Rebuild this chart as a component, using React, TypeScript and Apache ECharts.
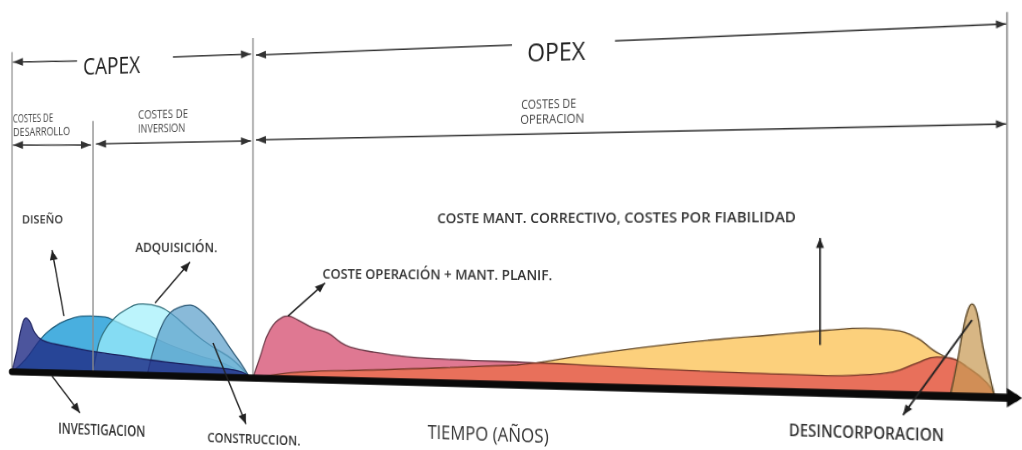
import React, { useEffect, useRef } from "react";
import * as echarts from "echarts";

// ---- data: time (0-100 = life cycle) vs cost level ----
const timeRange = [0, 100.8];
const costRange = [0, 150];

const investigacion = [[0, 0], [0.6, 24.1], [1.21, 51.6], [1.68, 59.4], [2.16, 55.1], [2.75, 43.1], [3.59, 35.6], [5.13, 31.5], [6.9, 28.6], [10.06, 23.8], [13.3, 20.1], [16.17, 16.5], [19.01, 13.9], [21.82, 11.3], [24.6, 9.4], [26.5, 6], [27.5, 0]];
const diseno = [[0, 0], [1.56, 13.3], [3.35, 35.6], [4.54, 46.7], [6.55, 57.9], [9.25, 62.6], [10.99, 61.8], [12.15, 57.6], [13.88, 50.4], [16.17, 42.2], [18.44, 33], [21.82, 21.9], [24.6, 14.1], [27.36, 0]];
const adquisicion = [[9.47, 0], [10.06, 23.8], [10.41, 36.8], [11.57, 55.4], [13.53, 70.7], [15.37, 76.3], [17.31, 73.3], [18.79, 65], [20.36, 52.5], [21.82, 41], [23.27, 31.8], [25.49, 18.5], [27.36, 0]];
const construccion = [[15.83, 0], [16.4, 21.9], [17.31, 48.8], [18.44, 67.1], [19.57, 73.6], [20.7, 75.9], [21.82, 70.7], [22.94, 60.3], [24.05, 46.7], [25.16, 31.1], [26.26, 16.6], [27.36, 0]];
const operacion = [[27.69, 0], [28.46, 22.3], [29.55, 50.8], [30.96, 64.6], [31.5, 65.7], [32.58, 61.7], [34.2, 53.6], [35.81, 48.7], [37.09, 39.6], [38.15, 34.6], [40.57, 30], [44.11, 25.8], [47.51, 24.3], [50.87, 23.4], [55.29, 23], [57.57, 22], [63.44, 15], [72.94, 8], [85, 5], [99, 0]];
const correctivo = [[47, 0], [52, 12], [57.57, 23], [63.44, 33.6], [69.84, 43.2], [75, 49.5], [79.4, 54], [84.55, 59.5], [88, 61.8], [90.39, 60.7], [92.48, 53.6], [93.86, 42.6], [95.07, 35.4], [96.61, 24.7], [98.31, 11.2], [99.16, 0]];
const fiabilidad = [[27.69, 0], [32.8, 7.6], [40.57, 11.5], [55.29, 20], [57.57, 22.5], [63.44, 20.8], [72.94, 18.1], [78.49, 17.2], [84.55, 16.4], [87.48, 17.8], [90.39, 21.3], [92.48, 30.2], [94.2, 36.2], [95.33, 35.5], [96.78, 27.5], [98.48, 13.1], [99.16, 0]];
const desincorporacion = [[95.33, 0], [95.93, 31], [96.44, 61.7], [96.86, 80.3], [97.21, 85.9], [97.63, 77.6], [98.14, 46.3], [98.73, 18.7], [99.16, 0]];

// ---- perspective helpers (screen coords -> flat chart coords) ----
const OX = 519, OY = 239, KP = 0.0001785, CP = 0.99604, SHIFT = 60;
const FLAT_W = 1060, FLAT_H = 490;
const scaleAt = (xs: number) => 1 + KP * (xs - OX);
function P(xs: number, ys: number): [number, number] {
  const u = xs - OX;
  const s = 1 + KP * u;
  return [OX + u / (CP * s) + SHIFT, OY + (ys - OY) / s];
}
function seg(x1: number, y1: number, x2: number, y2: number, color: string, w: number, z: number) {
  const a = P(x1, y1), b = P(x2, y2);
  return { type: "line", silent: true, z, shape: { x1: a[0], y1: a[1], x2: b[0], y2: b[1] }, style: { stroke: color, lineWidth: w } };
}
function head(tx: number, ty: number, fx: number, fy: number, color: string, z: number, len = 10, hw = 4) {
  const dx = tx - fx, dy = ty - fy;
  const L = Math.hypot(dx, dy);
  const ux = dx / L, uy = dy / L;
  const bx = tx - ux * len, by = ty - uy * len;
  const pts = [[tx, ty], [bx - uy * hw, by + ux * hw], [bx + uy * hw, by - ux * hw]].map((p) => P(p[0], p[1]));
  return { type: "polygon", silent: true, z, shape: { points: pts }, style: { fill: color } };
}
function arrow(x1: number, y1: number, x2: number, y2: number, both: boolean, color = "#222", w = 1.6, z = 30) {
  const els: any[] = [seg(x1, y1, x2, y2, color, w, z), head(x2, y2, x1, y1, color, z)];
  if (both) els.push(head(x1, y1, x2, y2, color, z));
  return els;
}
let measureCtx: CanvasRenderingContext2D | null = null;
function label(text: string, xc: number, yc: number, capH: number, width: number, weight: number, color = "#333", z = 30) {
  if (!measureCtx) measureCtx = document.createElement("canvas").getContext("2d");
  const s = scaleAt(xc);
  const fs = capH / 0.714 / s;
  const family = '"Open Sans", "Noto Sans", sans-serif';
  measureCtx!.font = `${weight} ${fs}px ${family}`;
  const w0 = measureCtx!.measureText(text).width || 1;
  const targetW = width / (CP * s * s);
  const [x, y] = P(xc, yc);
  return {
    type: "text", silent: true, z, x, y, scaleX: targetW / w0,
    style: { text, fontSize: fs, fontFamily: family, fontWeight: weight, fill: color, align: "center", verticalAlign: "middle", textAlign: "center", textVerticalAlign: "middle" },
  };
}

function area(name: string, data: number[][], fill: string, opacity: number, stroke: string, z: number) {
  return {
    type: "line", name, data, z, smooth: 0.45, symbol: "none", showSymbol: false, silent: true,
    lineStyle: { color: stroke, width: 1.3 }, itemStyle: { color: fill }, areaStyle: { color: fill, opacity },
  };
}

export default function App() {
  const ref = useRef<HTMLDivElement>(null);
  useEffect(() => {
    if (!ref.current) return;
    const chart = echarts.init(ref.current, undefined, { renderer: "svg" });
    const grey = "#8c8c8c";
    const graphic: any[] = [
      seg(12, 52, 12, 372, grey, 1.5, 14),
      seg(93, 121, 93, 374, grey, 1.5, 14),
      seg(253, 38, 253, 377, grey, 1.5, 14),
      seg(1007, 12, 1007, 393, grey, 1.5, 14),
      ...arrow(77, 61, 13, 62, false, "#333", 1.5),
      ...arrow(173, 57, 251, 54, false, "#333", 1.5),
      ...arrow(512, 45, 256, 55, false, "#333", 1.5),
      ...arrow(615, 41, 1006, 24, false, "#333", 1.5),
      ...arrow(13, 145, 91, 145, true, "#333", 1.5),
      ...arrow(96, 144, 251, 141, true, "#333", 1.5),
      ...arrow(256, 140, 1006, 124, true, "#333", 1.5),
      ...arrow(64, 316, 52, 250, false),
      ...arrow(155, 303, 190, 262, false),
      ...arrow(52, 376, 80, 413, false),
      ...arrow(213, 343, 246, 424, false),
      ...arrow(288, 316, 325, 283, false),
      ...arrow(820, 345, 820, 238, false),
      ...arrow(972, 320, 903, 415, false),
      label("CAPEX", 111.5, 65, 17, 57, 400, "#222"),
      label("OPEX", 556, 51, 18, 58, 400, "#222"),
      label("COSTES DE", 33, 117.5, 8, 40, 400, "#444"),
      label("DESARROLLO", 41.5, 131, 8, 57, 400, "#444"),
      label("COSTES DE", 163, 114, 8, 50, 400, "#444"),
      label("INVERSION", 161.5, 128, 8, 47, 400, "#444"),
      label("COSTES DE", 548.5, 103.5, 9, 55, 400, "#444"),
      label("OPERACION", 552, 118, 9, 64, 400, "#444"),
      label("DISEÑO", 42.5, 219, 8.5, 41, 600),
      label("ADQUISICIÓN.", 176, 247.5, 9, 82, 600),
      label("INVESTIGACION", 101.5, 429, 10.5, 87, 600),
      label("CONSTRUCCION.", 253.5, 438.5, 9.5, 93, 600),
      label("COSTE OPERACIÓN + MANT. PLANIF.", 435, 274, 10, 230, 600),
      label("COSTE MANT. CORRECTIVO, COSTES POR FIABILIDAD", 611, 217, 10.5, 358, 600),
      label("TIEMPO (AÑOS)", 487.5, 433, 14, 121, 400),
      label("DESINCORPORACION", 865.5, 432, 12.5, 155, 600),
    ];
    chart.setOption({
      animation: false,
      backgroundColor: "transparent",
      grid: { left: 19.34, right: FLAT_W - 1036.05, top: 235, bottom: FLAT_H - 385, outerBoundsMode: "none", containLabel: false },
      xAxis: {
        type: "value", min: timeRange[0], max: timeRange[1], z: 20,
        axisLine: { show: true, onZero: true, symbol: ["none", "triangle"], symbolSize: [18, 13], lineStyle: { color: "#0a0a0a", width: 7.5 } },
        axisTick: { show: false }, axisLabel: { show: false }, splitLine: { show: false },
      },
      yAxis: { type: "value", min: costRange[0], max: costRange[1], show: false, splitLine: { show: false } },
      series: [
        area("Diseño", diseno, "#3aa8dc", 0.92, "#1f5d7c", 2),
        area("Adquisición", adquisicion, "#9ff0fb", 0.7, "#2d6b78", 3),
        area("Construcción", construccion, "#5b9fca", 0.72, "#2d5874", 4),
        area("Investigación", investigacion, "#1f2a85", 0.8, "#1a1f5c", 5),
        area("Mant. correctivo", correctivo, "#fcd07c", 1, "#6a5030", 6),
        area("Operación + mant. planif.", operacion, "#df7892", 1, "#6b3a48", 7),
        area("Fiabilidad", fiabilidad, "#e8705b", 1, "#7a3a2a", 8),
        area("Desincorporación", desincorporacion, "#c79a55", 0.72, "#5e4a2a", 9),
      ],
      graphic,
    });
    return () => chart.dispose();
  }, []);
  return (
    <div style={{ position: "fixed", left: 0, top: 0, width: 1022, height: 450, overflow: "hidden", background: "#fff" }}>
      <div
        ref={ref}
        style={{ position: "absolute", left: -SHIFT, top: 0, width: FLAT_W, height: FLAT_H, transformOrigin: `${OX + SHIFT}px ${OY}px`, transform: "perspective(500px) rotateY(-5.1deg)" }}
      />
    </div>
  );
}
